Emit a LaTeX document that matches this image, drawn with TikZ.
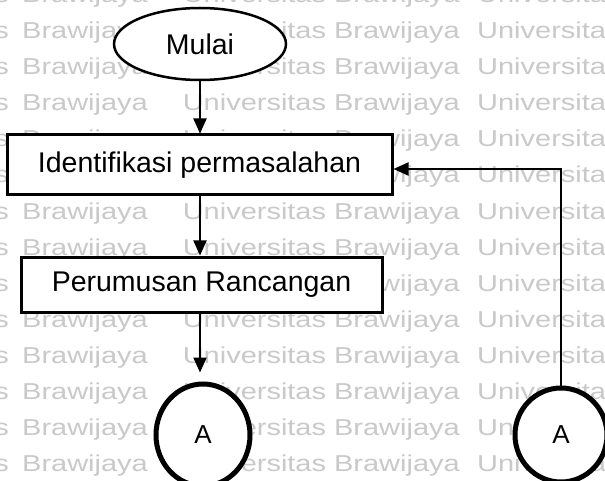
\documentclass[tikz,border=0pt]{standalone}
\usepackage{fontspec}
\usepackage{graphicx}
\setmainfont{Liberation Sans}
\usetikzlibrary{arrows.meta,shapes.geometric}

\tikzset{
  wm/.style={text=black!21, inner sep=0pt, font=\fontsize{23}{26}\selectfont},
  flowtext/.style={font=\fontsize{28.5}{34}\selectfont, inner sep=0pt, draw, fill=white},
  terminal/.style={flowtext, ellipse, line width=2.5pt},
  process/.style={flowtext, rectangle, line width=3pt},
  connector/.style={flowtext, ellipse, line width=5pt, font=\fontsize{26}{30}\selectfont},
  conn/.style={line width=2pt, -{Triangle[length=15pt,width=13pt]}}
}
\newcommand{\wmword}[1]{\scalebox{1.26}[1]{#1}}

\begin{document}
\begin{tikzpicture}[x=1pt, y=-1pt]
  \fill[white] (0,0) rectangle (605,481);
  \useasboundingbox (0,0) rectangle (605,481);

  % background lettering
  \begin{scope}
    \clip (0,0) rectangle (605,481);
    \foreach \k in {-1,...,12} {
      \pgfmathsetmacro{\b}{39+36*\k}
      \node[wm, anchor=base east] at (9,\b) {\wmword{s}};
      \node[wm, anchor=base west] at (22,\b) {\wmword{Brawijaya}};
      \node[wm, anchor=base east] at (460,\b) {\wmword{Universitas Brawijaya}};
      \node[wm, anchor=base west] at (477,\b) {\wmword{Universita}};
    }
  \end{scope}

  % flow nodes
  \node[terminal, minimum width=172pt, minimum height=72pt] (start) at (200,44) {Mulai};
  \node[process, minimum width=385pt, minimum height=60pt] (ident) at (199.5,165) {Identifikasi permasalahan};
  \node[process, minimum width=361pt, minimum height=55pt] (rumus) at (201.5,284.5) {Perumusan Rancangan};
  \node[connector, minimum width=94pt, minimum height=102pt] (conA) at (203,435) {A};
  \node[connector, minimum width=92pt, minimum height=94pt] (conB) at (561,435) {A};

  % connectors
  \draw[conn] (start.south) -- (start.south |- ident.north);
  \draw[conn] (start.south |- ident.south) -- (start.south |- rumus.north);
  \draw[conn, shorten >=9pt] (start.south |- rumus.south) -- (start.south |- conA.north);
  \draw[conn] (conB.north) |- ([yshift=-4pt]ident.east);
\end{tikzpicture}
\end{document}
